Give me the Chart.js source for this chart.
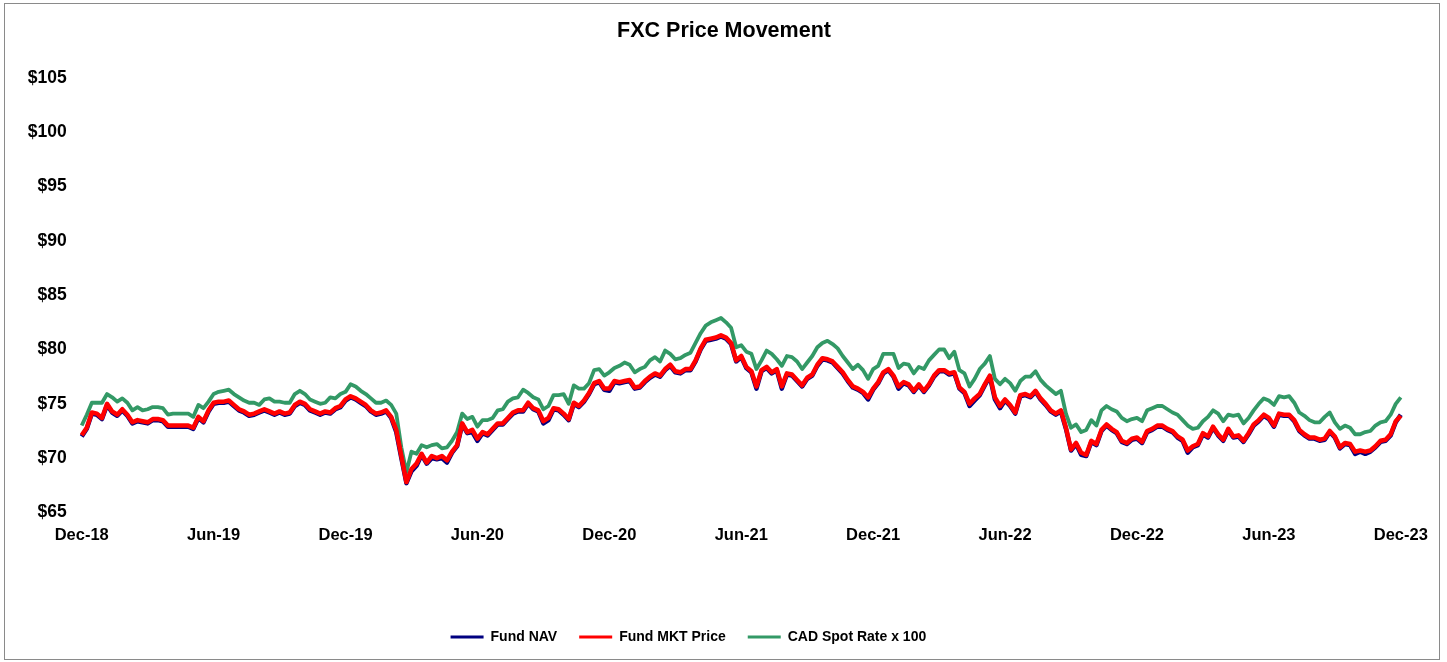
<!DOCTYPE html>
<html>
<head>
<meta charset="utf-8">
<title>FXC Price Movement</title>
<script src="https://cdn.jsdelivr.net/npm/chart.js@4.4.0/dist/chart.umd.min.js"></script>
<style>
  html, body { margin: 0; padding: 0; background: #fff; }
</style>
</head>
<body>
<canvas id="fxcChart" width="1447" height="662"></canvas>
<script>
// x-axis tick labels, one every 26 weekly points
const tickLabels = ["Dec-18", "Jun-19", "Dec-19", "Jun-20", "Dec-20", "Jun-21",
  "Dec-21", "Jun-22", "Dec-22", "Jun-23", "Dec-23"];

// weekly readings, Dec 2018 -> Dec 2023
const fundNav = [
  72.0, 72.7, 74.1, 74.0, 73.6, 74.9, 74.2, 73.9, 74.4, 73.9,
  73.2, 73.4, 73.3, 73.2, 73.5, 73.5, 73.4, 72.9, 72.9, 72.9,
  72.9, 72.9, 72.7, 73.7, 73.3, 74.3, 75.0, 75.1, 75.1, 75.2,
  74.8, 74.4, 74.2, 73.9, 74.0, 74.2, 74.4, 74.2, 74.0, 74.2,
  74.0, 74.1, 74.8, 75.1, 74.9, 74.4, 74.2, 74.0, 74.2, 74.1,
  74.5, 74.7, 75.3, 75.6, 75.4, 75.1, 74.8, 74.3, 74.0, 74.1,
  74.3, 73.7, 72.4, 70.0, 67.7, 68.8, 69.3, 70.3, 69.5, 70.0,
  69.9, 70.0, 69.6, 70.5, 71.1, 73.1, 72.3, 72.4, 71.6, 72.3,
  72.1, 72.6, 73.1, 73.1, 73.6, 74.1, 74.3, 74.3, 75.0, 74.5,
  74.3, 73.2, 73.5, 74.5, 74.4, 74.0, 73.5, 75.0, 74.7, 75.2,
  75.9, 76.8, 77.0, 76.3, 76.2, 77.0, 76.9, 77.0, 77.1, 76.4,
  76.5, 77.0, 77.4, 77.7, 77.5, 78.1, 78.5, 77.9, 77.8, 78.1,
  78.1, 78.9, 80.0, 80.8, 80.9, 81.0, 81.2, 81.0, 80.5, 78.9,
  79.3, 78.3, 77.9, 76.4, 78.0, 78.3, 77.8, 78.1, 76.4, 77.7,
  77.6, 77.1, 76.6, 77.3, 77.6, 78.5, 79.1, 79.0, 78.8, 78.3,
  77.8, 77.1, 76.5, 76.3, 76.0, 75.4, 76.3, 76.9, 77.8, 78.1,
  77.5, 76.4, 76.9, 76.7, 76.1, 76.7, 76.1, 76.7, 77.5, 78.0,
  78.0, 77.7, 77.8, 76.4, 76.0, 74.8, 75.3, 75.8, 76.7, 77.5,
  75.4, 74.6, 75.3, 74.8, 74.1, 75.7, 75.8, 75.6, 76.1, 75.4,
  74.9, 74.3, 74.0, 74.3, 72.7, 70.7, 71.3, 70.3, 70.2, 71.5,
  71.2, 72.5, 73.0, 72.6, 72.3, 71.5, 71.3, 71.7, 71.8, 71.4,
  72.4, 72.6, 72.9, 72.9, 72.6, 72.4, 71.9, 71.6, 70.5, 71.0,
  71.2, 72.2, 71.9, 72.8, 72.1, 71.6, 72.6, 71.9, 72.0, 71.5,
  72.2, 73.0, 73.4, 73.9, 73.6, 72.9, 74.0, 73.9, 73.9, 73.4,
  72.5, 72.1, 71.8, 71.8, 71.6, 71.7, 72.4, 71.9, 70.9, 71.3,
  71.2, 70.4, 70.6, 70.4, 70.6, 71.0, 71.5, 71.6, 72.1, 73.3,
  74.0
];

const fundMkt = [
  72.1, 72.8, 74.2, 74.1, 73.7, 75.0, 74.3, 74.0, 74.5, 74.0,
  73.3, 73.5, 73.4, 73.3, 73.6, 73.6, 73.5, 73.0, 73.0, 73.0,
  73.0, 73.0, 72.8, 73.8, 73.4, 74.4, 75.1, 75.2, 75.2, 75.3,
  74.9, 74.5, 74.3, 74.0, 74.1, 74.3, 74.5, 74.3, 74.1, 74.3,
  74.1, 74.2, 74.9, 75.2, 75.0, 74.5, 74.3, 74.1, 74.3, 74.2,
  74.6, 74.8, 75.4, 75.7, 75.5, 75.2, 74.9, 74.4, 74.1, 74.2,
  74.4, 73.8, 72.6, 70.2, 67.8, 69.0, 69.5, 70.4, 69.6, 70.2,
  70.0, 70.2, 69.8, 70.6, 71.2, 73.2, 72.4, 72.6, 71.8, 72.4,
  72.2, 72.7, 73.2, 73.2, 73.7, 74.2, 74.4, 74.4, 75.1, 74.6,
  74.4, 73.4, 73.7, 74.6, 74.5, 74.1, 73.6, 75.1, 74.8, 75.3,
  76.0, 76.9, 77.1, 76.4, 76.4, 77.1, 77.0, 77.1, 77.2, 76.5,
  76.6, 77.1, 77.5, 77.8, 77.6, 78.2, 78.6, 78.0, 77.9, 78.2,
  78.2, 79.0, 80.1, 80.9, 81.0, 81.1, 81.3, 81.1, 80.6, 79.0,
  79.4, 78.4, 78.0, 76.6, 78.1, 78.4, 77.9, 78.2, 76.6, 77.8,
  77.7, 77.2, 76.7, 77.4, 77.7, 78.6, 79.2, 79.1, 78.9, 78.4,
  77.9, 77.2, 76.6, 76.4, 76.1, 75.6, 76.4, 77.0, 77.9, 78.2,
  77.6, 76.6, 77.0, 76.8, 76.2, 76.8, 76.2, 76.8, 77.6, 78.1,
  78.1, 77.8, 77.9, 76.5, 76.1, 75.0, 75.5, 75.9, 76.8, 77.6,
  75.6, 74.8, 75.4, 74.9, 74.2, 75.8, 75.9, 75.7, 76.2, 75.5,
  75.0, 74.4, 74.1, 74.4, 72.8, 70.8, 71.4, 70.5, 70.3, 71.6,
  71.3, 72.6, 73.1, 72.7, 72.4, 71.6, 71.4, 71.8, 71.9, 71.5,
  72.5, 72.7, 73.0, 73.0, 72.7, 72.5, 72.0, 71.7, 70.7, 71.1,
  71.3, 72.3, 72.0, 72.9, 72.2, 71.7, 72.7, 72.0, 72.1, 71.6,
  72.3, 73.1, 73.5, 74.0, 73.7, 73.0, 74.1, 74.0, 74.0, 73.5,
  72.6, 72.2, 71.9, 71.9, 71.7, 71.8, 72.5, 72.0, 71.0, 71.4,
  71.3, 70.6, 70.7, 70.6, 70.7, 71.1, 71.6, 71.7, 72.2, 73.4,
  73.9
];

const cadSpot = [
  73.0, 74.0, 75.1, 75.1, 75.1, 75.9, 75.6, 75.2, 75.5, 75.1,
  74.4, 74.7, 74.4, 74.5, 74.7, 74.7, 74.6, 74.0, 74.1, 74.1,
  74.1, 74.1, 73.8, 74.9, 74.6, 75.2, 75.9, 76.1, 76.2, 76.3,
  75.9, 75.6, 75.3, 75.1, 75.1, 74.9, 75.4, 75.5, 75.2, 75.2,
  75.1, 75.1, 75.9, 76.2, 75.9, 75.4, 75.2, 75.0, 75.1, 75.6,
  75.5, 75.9, 76.1, 76.8, 76.6, 76.2, 75.9, 75.5, 75.1, 75.1,
  75.3, 74.9, 74.1, 71.0, 68.7, 70.6, 70.4, 71.2, 71.0, 71.2,
  71.3, 70.9, 71.0, 71.6, 72.4, 74.1, 73.6, 73.8, 72.9, 73.5,
  73.5, 73.7, 74.4, 74.5, 75.2, 75.5, 75.6, 76.3, 76.0, 75.6,
  75.4, 74.5, 74.8, 75.8, 75.8, 75.9, 75.0, 76.7, 76.4, 76.4,
  76.9, 78.1, 78.2, 77.6, 77.9, 78.3, 78.5, 78.8, 78.6, 77.9,
  78.2, 78.4, 79.0, 79.3, 78.9, 79.9, 79.6, 79.1, 79.2, 79.5,
  79.7, 80.6, 81.5, 82.2, 82.5, 82.7, 82.9, 82.5, 82.0, 80.2,
  80.4, 79.8, 79.6, 78.2, 79.0, 79.9, 79.6, 79.1, 78.5, 79.4,
  79.3, 78.9, 78.2, 78.8, 79.4, 80.2, 80.6, 80.8, 80.5, 80.1,
  79.4, 78.8, 78.2, 78.6, 78.1, 77.3, 78.2, 78.5, 79.6, 79.6,
  79.6, 78.3, 78.7, 78.6, 77.8, 78.4, 78.2, 79.0, 79.5, 80.0,
  80.0, 79.2, 79.8, 78.1, 77.8, 76.6, 77.3, 78.2, 78.7, 79.4,
  77.3, 76.8, 77.3, 76.9, 76.2, 77.1, 77.5, 77.5, 78.0, 77.2,
  76.7, 76.3, 75.9, 76.2, 74.1, 72.8, 73.1, 72.4, 72.6, 73.5,
  73.0, 74.4, 74.8, 74.5, 74.3, 73.7, 73.4, 73.6, 73.7, 73.4,
  74.4, 74.6, 74.8, 74.8, 74.5, 74.2, 74.0, 73.5, 73.0, 72.7,
  72.8, 73.4, 73.8, 74.4, 74.1, 73.4, 74.0, 73.9, 74.0, 73.2,
  73.7, 74.4, 75.0, 75.5, 75.3, 74.9, 75.7, 75.6, 75.7, 75.1,
  74.2, 73.9, 73.5, 73.3, 73.3, 73.8, 74.2, 73.3, 72.7, 73.0,
  72.8, 72.2, 72.2, 72.4, 72.5, 73.0, 73.3, 73.4, 74.0, 75.0,
  75.6
];

// category dates for each weekly reading
const months = ["Jan","Feb","Mar","Apr","May","Jun","Jul","Aug","Sep","Oct","Nov","Dec"];
const dates = fundMkt.map((_, i) => {
  const d = new Date(2018, 11, 1 + i * 7);
  return months[d.getMonth()] + "-" + String(d.getFullYear()).slice(2);
});

const FONT = "'Liberation Sans', Arial, sans-serif";

// white background, grey frame and the title centred on the whole canvas
const frame = {
  id: "frame",
  beforeDraw(chart) {
    const { ctx } = chart;
    ctx.save();
    ctx.fillStyle = "#fff";
    ctx.fillRect(0, 0, chart.width, chart.height);
    ctx.strokeStyle = "#8a8a8a";
    ctx.lineWidth = 1;
    ctx.strokeRect(4.5, 3.5, 1435, 656);
    ctx.fillStyle = "#000";
    ctx.font = "bold 21.5px " + FONT;
    ctx.textAlign = "center";
    ctx.textBaseline = "middle";
    ctx.fillText("FXC Price Movement", 724, 31);
    ctx.restore();
  },
  afterLayout(chart) {
    // nudge the legend a little left, like the original
    chart.legend.left -= 12;
    chart.legend.right -= 12;
  },
};

const line = (label, data, color, width, order) => ({
  label,
  data,
  borderColor: color,
  backgroundColor: color,
  borderWidth: width,
  borderJoinStyle: "round",
  pointRadius: 0,
  tension: 0,
  order,
});

new Chart(document.getElementById("fxcChart"), {
  type: "line",
  data: {
    labels: dates,
    datasets: [
      line("Fund NAV", fundNav, "#000080", 4.5, 1),
      line("Fund MKT Price", fundMkt, "#ff0000", 4.5, 0),
      line("CAD Spot Rate x 100", cadSpot, "#339966", 3.8, 2),
    ],
  },
  options: {
    responsive: false,
    animation: false,
    layout: { padding: { left: 0, right: 46.2, top: 77.8, bottom: 8 } },
    plugins: {
      title: { display: false },
      legend: {
        position: "bottom",
        labels: {
          color: "#000",
          font: { family: FONT, size: 14, weight: "bold" },
          boxWidth: 33,
          boxHeight: 3,
          padding: 22,
          sort: (a, b) => a.datasetIndex - b.datasetIndex,
          generateLabels(chart) {
            return Chart.defaults.plugins.legend.labels
              .generateLabels(chart)
              .map((l) => ({ ...l, lineWidth: 0 }));
          },
        },
      },
      tooltip: { enabled: false },
    },
    scales: {
      x: {
        type: "category",
        grid: { display: false, drawTicks: false },
        border: { display: false },
        ticks: {
          autoSkip: false,
          maxRotation: 0,
          padding: 13.5,
          color: "#000",
          font: { family: FONT, size: 16.5, weight: "bold" },
          callback: (v, i) => (i % 26 === 0 ? tickLabels[i / 26] : null),
        },
        afterFit(scale) { scale.height = 95.5; },
      },
      y: {
        min: 65,
        max: 105,
        grid: { display: false, drawTicks: false },
        border: { display: false },
        ticks: {
          stepSize: 5,
          padding: 15,
          color: "#000",
          font: { family: FONT, size: 17.5, weight: "bold" },
          callback: (v) => "$" + v,
        },
        afterFit(scale) { scale.width = 81.7; },
      },
    },
  },
  plugins: [frame],
});
</script>
</body>
</html>
